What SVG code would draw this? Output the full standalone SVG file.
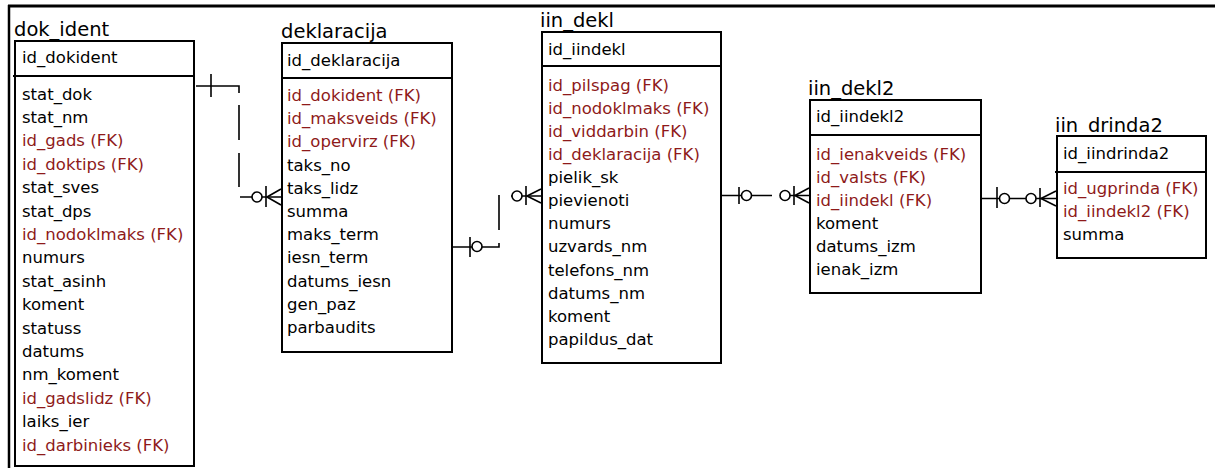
<svg xmlns="http://www.w3.org/2000/svg" width="1215" height="468" viewBox="0 0 1215 468">
<style>
.t{font-family:"DejaVu Sans",sans-serif;font-size:19.5px;fill:#000}
.k{font-family:"DejaVu Sans",sans-serif;font-size:16.5px;fill:#000}
.f{fill:#8e1a1a}
.box{fill:#fff;stroke:#000;stroke-width:2}
.div{stroke:#000;stroke-width:2}
.c{stroke:#000;stroke-width:1.6;fill:none}
.o{stroke:#000;stroke-width:1.6;fill:#fff}
</style>
<rect x="0" y="0" width="1215" height="468" fill="#fff"/>
<g id="frame">
<line x1="8" y1="6" x2="1215" y2="6" stroke="#000" stroke-width="3"/>
<line x1="9" y1="5" x2="9" y2="468" stroke="#000" stroke-width="2.5"/>
</g>
<g id="connectors">
<!-- dok_ident -> deklaracija -->
<path class="c" d="M196,86 H239 V93 M239,105 V140 M239,153 V187 M240,197 H282"/>
<line class="c" x1="211" y1="74" x2="211" y2="97"/>
<circle class="o" cx="257" cy="197" r="5"/>
<line class="c" x1="266" y1="186" x2="266" y2="207"/>
<path class="c" d="M267,197 L281,189 M267,197 L281,205"/>
<!-- deklaracija -> iin_dekl -->
<path class="c" d="M453,247 H499 V243 M499,230 V195 M511,196 H542"/>
<line class="c" x1="470" y1="237" x2="470" y2="257"/>
<circle class="o" cx="477" cy="246.5" r="5"/>
<circle class="o" cx="517" cy="196" r="5"/>
<line class="c" x1="526" y1="186" x2="526" y2="205"/>
<path class="c" d="M527,196 L541,189 M527,196 L541,203"/>
<!-- iin_dekl -> iin_dekl2 -->
<path class="c" d="M721,195.5 H772 M780,195.5 H810"/>
<line class="c" x1="739" y1="187" x2="739" y2="204"/>
<circle class="o" cx="746.5" cy="195.5" r="5"/>
<circle class="o" cx="785" cy="195.5" r="5"/>
<line class="c" x1="794" y1="186" x2="794" y2="205"/>
<path class="c" d="M795,195.5 L809,188 M795,195.5 L809,203"/>
<!-- iin_dekl2 -> iin_drinda2 -->
<path class="c" d="M981,198.5 H1057"/>
<line class="c" x1="997" y1="187" x2="997" y2="208"/>
<circle class="o" cx="1004.5" cy="198.5" r="5"/>
<circle class="o" cx="1031" cy="198.5" r="5"/>
<line class="c" x1="1040" y1="188" x2="1040" y2="207"/>
<path class="c" d="M1041,198.5 L1056,191 M1041,198.5 L1056,206"/>
</g>
<g id="dok_ident">
<text class="t" x="14" y="36">dok_ident</text>
<rect class="box" x="15" y="41" width="179" height="425"/>
<line class="div" x1="13" y1="76" x2="194" y2="76"/>
<text class="k" x="22" y="63">id_dokident</text>
<text class="k" x="22" y="99.5">stat_dok</text>
<text class="k" x="22" y="122.9">stat_nm</text>
<text class="k f" x="22" y="146.3">id_gads (FK)</text>
<text class="k f" x="22" y="169.7">id_doktips (FK)</text>
<text class="k" x="22" y="193.1">stat_sves</text>
<text class="k" x="22" y="216.5">stat_dps</text>
<text class="k f" x="22" y="239.9">id_nodoklmaks (FK)</text>
<text class="k" x="22" y="263.3">numurs</text>
<text class="k" x="22" y="286.7">stat_asinh</text>
<text class="k" x="22" y="310.1">koment</text>
<text class="k" x="22" y="333.5">statuss</text>
<text class="k" x="22" y="356.9">datums</text>
<text class="k" x="22" y="380.3">nm_koment</text>
<text class="k f" x="22" y="403.7">id_gadslidz (FK)</text>
<text class="k" x="22" y="427.1">laiks_ier</text>
<text class="k f" x="22" y="450.5">id_darbinieks (FK)</text>
</g>
<g id="deklaracija">
<text class="t" x="281" y="38">deklaracija</text>
<rect class="box" x="282" y="43" width="170" height="309"/>
<line class="div" x1="282" y1="78" x2="452" y2="78"/>
<text class="k" x="287" y="66">id_deklaracija</text>
<text class="k f" x="287" y="101">id_dokident (FK)</text>
<text class="k f" x="287" y="124.2">id_maksveids (FK)</text>
<text class="k f" x="287" y="147.4">id_opervirz (FK)</text>
<text class="k" x="287" y="170.6">taks_no</text>
<text class="k" x="287" y="193.8">taks_lidz</text>
<text class="k" x="287" y="217">summa</text>
<text class="k" x="287" y="240.2">maks_term</text>
<text class="k" x="287" y="263.4">iesn_term</text>
<text class="k" x="287" y="286.6">datums_iesn</text>
<text class="k" x="287" y="309.8">gen_paz</text>
<text class="k" x="287" y="333">parbaudits</text>
</g>
<g id="iin_dekl">
<text class="t" x="540" y="27">iin_dekl</text>
<rect class="box" x="542" y="32" width="179" height="331"/>
<line class="div" x1="542" y1="66" x2="721" y2="66"/>
<text class="k" x="548" y="55">id_iindekl</text>
<text class="k f" x="548" y="90.7">id_pilspag (FK)</text>
<text class="k f" x="548" y="113.8">id_nodoklmaks (FK)</text>
<text class="k f" x="548" y="136.9">id_viddarbin (FK)</text>
<text class="k f" x="548" y="160">id_deklaracija (FK)</text>
<text class="k" x="548" y="183.1">pielik_sk</text>
<text class="k" x="548" y="206.2">pievienoti</text>
<text class="k" x="548" y="229.3">numurs</text>
<text class="k" x="548" y="252.4">uzvards_nm</text>
<text class="k" x="548" y="275.5">telefons_nm</text>
<text class="k" x="548" y="298.6">datums_nm</text>
<text class="k" x="548" y="321.7">koment</text>
<text class="k" x="548" y="344.8">papildus_dat</text>
</g>
<g id="iin_dekl2">
<text class="t" x="808" y="95">iin_dekl2</text>
<rect class="box" x="810" y="100" width="171" height="193"/>
<line class="div" x1="810" y1="135" x2="981" y2="135"/>
<text class="k" x="816" y="122">id_iindekl2</text>
<text class="k f" x="816" y="160">id_ienakveids (FK)</text>
<text class="k f" x="816" y="183">id_valsts (FK)</text>
<text class="k f" x="816" y="206">id_iindekl (FK)</text>
<text class="k" x="816" y="229">koment</text>
<text class="k" x="816" y="252">datums_izm</text>
<text class="k" x="816" y="275">ienak_izm</text>
</g>
<g id="iin_drinda2">
<text class="t" x="1055" y="132">iin_drinda2</text>
<rect class="box" x="1057" y="136" width="149" height="122"/>
<line class="div" x1="1055" y1="172" x2="1206" y2="172"/>
<text class="k" x="1063" y="159">id_iindrinda2</text>
<text class="k f" x="1063" y="194">id_ugprinda (FK)</text>
<text class="k f" x="1063" y="217">id_iindekl2 (FK)</text>
<text class="k" x="1063" y="240">summa</text>
</g>
</svg>
